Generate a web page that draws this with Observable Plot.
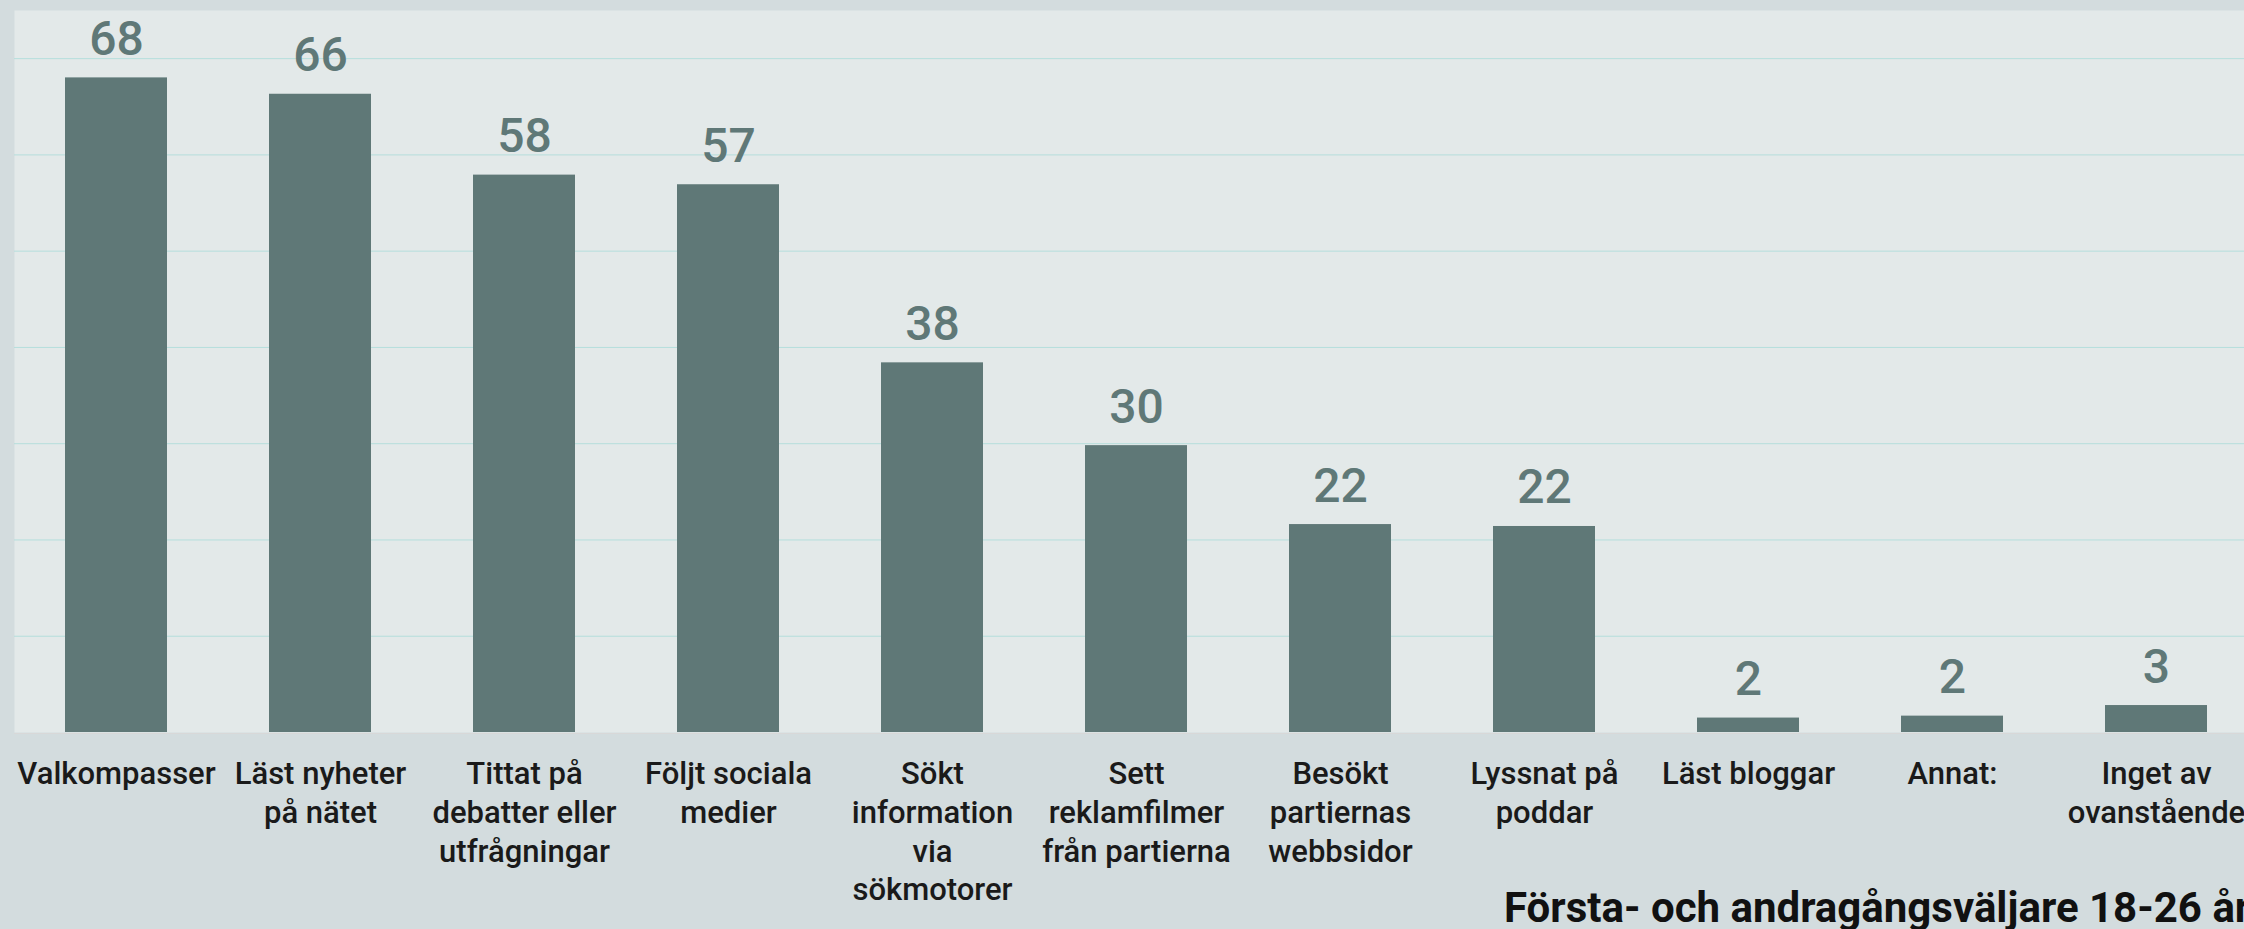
<!DOCTYPE html>
<html><head><meta charset="utf-8">
<script src="https://cdn.jsdelivr.net/npm/d3@7"></script>
<script src="https://cdn.jsdelivr.net/npm/@observablehq/plot@0.6"></script>
<style>
html,body{margin:0;padding:0;background:#d3dcde;overflow:hidden;width:2244px;height:929px;}
#chart{position:relative;width:2244px;height:929px;overflow:hidden;}
#chart svg{display:block;max-width:none !important;height:929px !important;}
#title{position:absolute;left:1504px;top:883px;font-family:Roboto;font-weight:700;font-size:42px;color:#111;white-space:nowrap;line-height:normal;}
</style></head><body><div id="chart"><div id="title"></div></div>
<script>
const categories = ["Valkompasser","Läst nyheter på nätet","Tittat på debatter eller utfrågningar","Följt sociala medier","Sökt information via sökmotorer","Sett reklamfilmer från partierna","Besökt partiernas webbsidor","Lyssnat på poddar","Läst bloggar","Annat:","Inget av ovanstående"];
const tickLabels = ["Valkompasser","Läst nyheter\npå nätet","Tittat på\ndebatter eller\nutfrågningar","Följt sociala\nmedier","Sökt\ninformation\nvia\nsökmotorer","Sett\nreklamfilmer\nfrån partierna","Besökt\npartiernas\nwebbsidor","Lyssnat på\npoddar","Läst bloggar","Annat:","Inget av\novanstående"];
const values = [68.0, 66.3, 57.9, 56.9, 38.4, 29.8, 21.6, 21.4, 1.5, 1.7, 2.8];
const valueLabels = ["68","66","58","57","38","30","22","22","2","2","3"];
const yTicks = [10, 20, 30, 40, 50, 60, 70];
const seriesName = "Första- och andragångsväljare 18-26 år";

const data = categories.map((c, i) => ({category: c, value: values[i], label: valueLabels[i]}));

const plot = Plot.plot({
  width: 2258, height: 929,
  marginLeft: 14, marginRight: 0, marginTop: 10, marginBottom: 197,
  style: {background: "transparent", fontFamily: "Roboto", fontSize: "31px", maxWidth: "none"},
  x: {domain: categories, paddingInner: 0.5, paddingOuter: 0.25, label: null},
  y: {domain: [0, 75], label: null, axis: null},
  marks: [
    Plot.frame({fill: "#e3e9e9", stroke: null}),
    Plot.gridY(yTicks, {stroke: "#b5dedc", strokeOpacity: 1, strokeWidth: 1}),
    Plot.barY(data, {x: "category", y: "value", fill: "#5f7877"}),
    Plot.ruleY([0], {stroke: "#d8d8d8", strokeWidth: 1, dy: 1}),
    Plot.text(data, {x: "category", y: "value", text: "label", lineAnchor: "bottom", dy: -23, fill: "#5f7877", fontSize: 48, fontWeight: 500}),
    Plot.axisX({tickSize: 0, tickPadding: 24, tickFormat: d => tickLabels[categories.indexOf(d)], fontSize: 31, fontWeight: 500, color: "#1a1a1a", lineHeight: 1.25, label: null})
  ]
});
document.getElementById("chart").prepend(plot);
document.getElementById("title").textContent = seriesName;
</script>
</body></html>
